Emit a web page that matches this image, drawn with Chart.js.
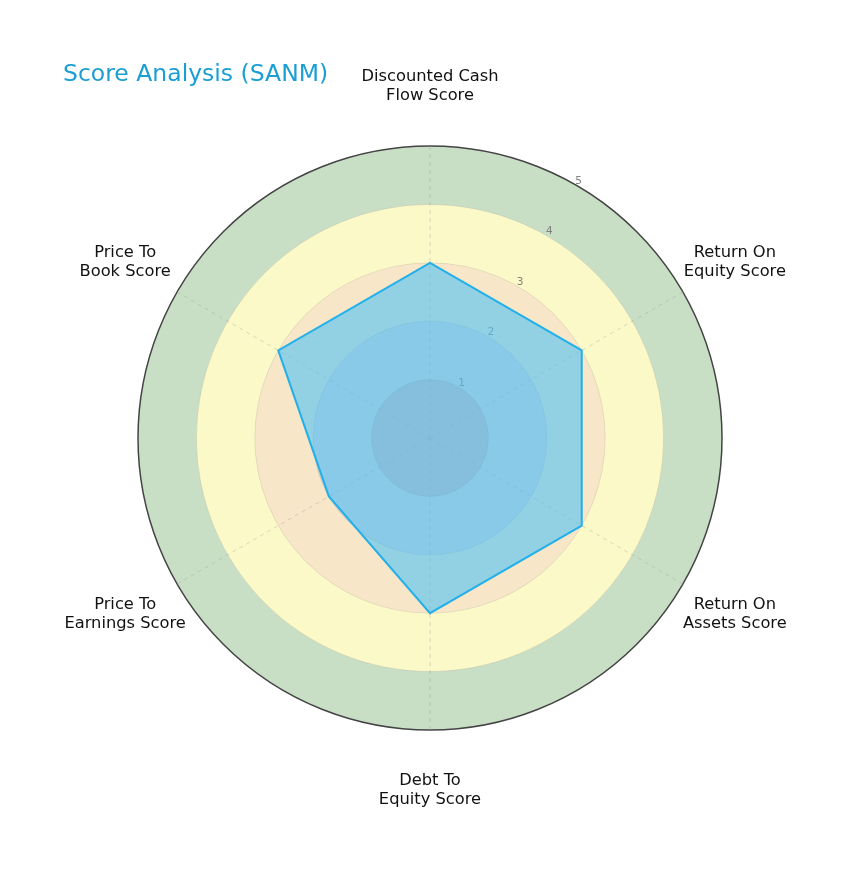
<!DOCTYPE html>
<html>
<head>
<meta charset="utf-8">
<script src="https://cdn.jsdelivr.net/npm/chart.js@4/dist/chart.umd.min.js"></script>
<style>
  html, body { margin: 0; padding: 0; background: #fff; }
</style>
</head>
<body>
<canvas id="chart" width="850" height="871"></canvas>
<script>
// ── Data ──────────────────────────────────────────────────────────────────
const CATEGORIES = [
  ['Discounted Cash', 'Flow Score'],
  ['Return On', 'Equity Score'],
  ['Return On', 'Assets Score'],
  ['Debt To', 'Equity Score'],
  ['Price To', 'Earnings Score'],
  ['Price To', 'Book Score'],
];
const SCORES     = [3, 3, 3, 3, 2, 3];
const TICK_VALUES = [1, 2, 3, 4, 5];
const TITLE = 'Score Analysis (SANM)';

// background bands, inner to outer (0-1, 1-2, 2-3, 3-4, 4-5)
const BAND_COLORS = ['#dab8ba', '#ded4d2', '#f8e6c8', '#fcf9c9', '#c8dfc6'];

const FONT = '"DejaVu Sans", Verdana, sans-serif';

// ── Plugins ───────────────────────────────────────────────────────────────
const bandsPlugin = {
  id: 'bands',
  beforeDraw(chart) {
    const s = chart.scales.r;
    const ctx = chart.ctx;
    ctx.save();
    for (let i = BAND_COLORS.length - 1; i >= 0; i--) {
      ctx.beginPath();
      ctx.arc(s.xCenter, s.yCenter, s.getDistanceFromCenterForValue(i + 1), 0, Math.PI * 2);
      ctx.fillStyle = BAND_COLORS[i];
      ctx.fill();
    }
    ctx.restore();
  },
  beforeDatasetsDraw(chart) {
    // radial tick labels, between the first two spokes
    const s = chart.scales.r;
    const ctx = chart.ctx;
    ctx.save();
    ctx.font = `10.5px ${FONT}`;
    ctx.fillStyle = '#808080';
    ctx.textAlign = 'center';
    ctx.textBaseline = 'middle';
    TICK_VALUES.forEach(v => {
      const p = s.getPointPosition(0.5, s.getDistanceFromCenterForValue(v) + 5);
      ctx.fillText(String(v), p.x, p.y);
    });
    ctx.restore();
  },
  afterDraw(chart) {
    const s = chart.scales.r;
    const ctx = chart.ctx;
    ctx.save();
    // axis labels
    ctx.font = `16.3px ${FONT}`;
    ctx.fillStyle = '#111';
    ctx.textAlign = 'center';
    ctx.textBaseline = 'middle';
    CATEGORIES.forEach((lines, i) => {
      const p = s.getPointPosition(i, s.getDistanceFromCenterForValue(5) + 60);
      lines.forEach((t, li) => ctx.fillText(t, p.x, p.y + (li - (lines.length - 1) / 2) * 19));
    });
    // title
    ctx.font = `23.5px ${FONT}`;
    ctx.fillStyle = '#1b9ed4';
    ctx.textAlign = 'left';
    ctx.textBaseline = 'alphabetic';
    ctx.fillText(TITLE, 63, 81);
    ctx.restore();
  }
};

// ── Chart ─────────────────────────────────────────────────────────────────
new Chart(document.getElementById('chart'), {
  type: 'radar',
  data: {
    labels: CATEGORIES.map(l => l.join(' ')),
    datasets: [{
      data: SCORES,
      backgroundColor: 'rgba(79,195,247,0.6)',
      borderColor: '#22b0ea',
      borderWidth: 2,
      pointRadius: 0,
      pointHoverRadius: 0,
      fill: true,
    }]
  },
  options: {
    responsive: false,
    animation: false,
    layout: { padding: { left: 138, right: 128, top: 146, bottom: 141 } },
    plugins: { legend: { display: false }, tooltip: { enabled: false } },
    scales: {
      r: {
        min: 0, max: 5,
        ticks: { stepSize: 1, display: false },
        pointLabels: { display: false },
        grid: {
          circular: true,
          color: c => c.tick && c.tick.value === 5 ? '#444' : 'rgba(120,120,120,0.22)',
          lineWidth: c => c.tick && c.tick.value === 5 ? 1.5 : 0.8,
        },
        angleLines: { display: true, color: 'rgba(150,150,150,0.45)', lineWidth: 0.8, borderDash: [4, 4] },
      }
    }
  },
  plugins: [bandsPlugin]
});
</script>
</body>
</html>
